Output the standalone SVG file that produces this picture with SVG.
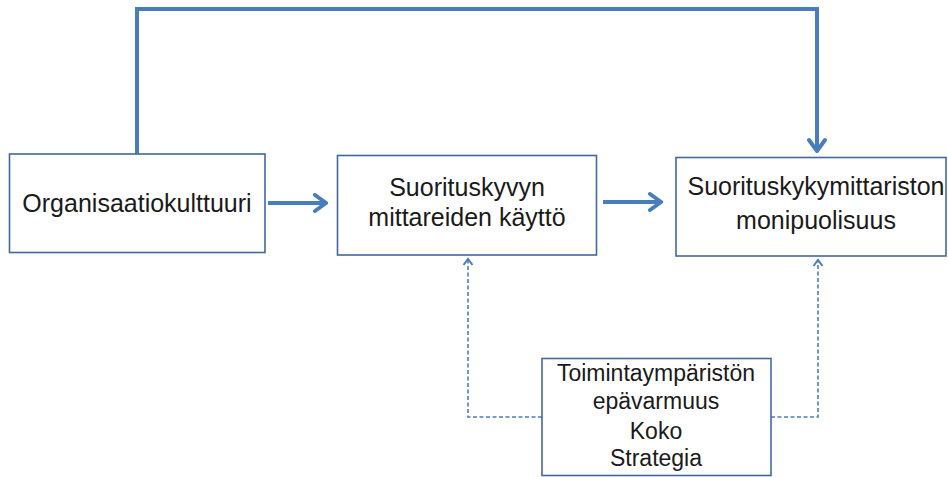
<svg xmlns="http://www.w3.org/2000/svg" width="948" height="477" viewBox="0 0 948 477">
  <defs>
    <marker id="arrow" markerUnits="userSpaceOnUse" viewBox="-14 -10 16 20" markerWidth="16" markerHeight="20" refX="0" refY="0" orient="auto">
      <path d="M-11,-8 L0,0 L-11,8" fill="none" stroke="#4a7ebb" stroke-width="4" stroke-linejoin="miter" stroke-linecap="round"/>
    </marker>
    <marker id="arrowSmall" markerUnits="userSpaceOnUse" viewBox="-8 -6 10 12" markerWidth="10" markerHeight="12" refX="0" refY="0" orient="auto">
      <path d="M-6,-4.5 L0,0 L-6,4.5" fill="none" stroke="#4a7ebb" stroke-width="2"/>
    </marker>
  </defs>
  <style>
    .box { fill: #ffffff; stroke: #41699e; stroke-width: 1.6; }
    .label { font-family: "Liberation Sans", Arial, sans-serif; font-size: 25px; fill: #1a1a1a; text-anchor: middle; }
    .small { font-size: 23px; }
    .solid { fill: none; stroke: #4a7ebb; stroke-width: 4; }
    .dashed { fill: none; stroke: #4a7ebb; stroke-width: 1.6; stroke-dasharray: 4 2.5; }
  </style>
  <rect width="948" height="477" fill="#ffffff"/>

  <g id="connectors">
    <polyline class="solid" points="137,154 137,9 817,9 817,151" marker-end="url(#arrow)"/>
    <line class="solid" x1="268" y1="203" x2="326" y2="203" marker-end="url(#arrow)"/>
    <line class="solid" x1="603" y1="202" x2="661" y2="202" marker-end="url(#arrow)"/>
    <polyline class="dashed" points="542,417 468,417 468,259" marker-end="url(#arrowSmall)"/>
    <polyline class="dashed" points="771,417 818,417 818,260" marker-end="url(#arrowSmall)"/>
  </g>

  <g id="organisaatiokulttuuri">
    <rect class="box" x="9.5" y="154" width="255.5" height="98.5"/>
    <text class="label" x="137" y="212">Organisaatiokulttuuri</text>
  </g>

  <g id="mittareiden-kaytto">
    <rect class="box" x="337.5" y="155.5" width="259" height="99.5"/>
    <text class="label" x="467" y="196">Suorituskyvyn</text>
    <text class="label" x="467" y="226">mittareiden käyttö</text>
  </g>

  <g id="mittariston-monipuolisuus">
    <rect class="box" x="676" y="157.5" width="270" height="98.5"/>
    <text class="label" x="816" y="195">Suorituskykymittariston</text>
    <text class="label" x="816" y="229">monipuolisuus</text>
  </g>

  <g id="tekijat">
    <rect class="box" x="542" y="358.5" width="229" height="117"/>
    <text class="label small" x="656" y="381">Toimintaympäristön</text>
    <text class="label small" x="656" y="409">epävarmuus</text>
    <text class="label small" x="656" y="439">Koko</text>
    <text class="label small" x="656" y="466">Strategia</text>
  </g>
</svg>
